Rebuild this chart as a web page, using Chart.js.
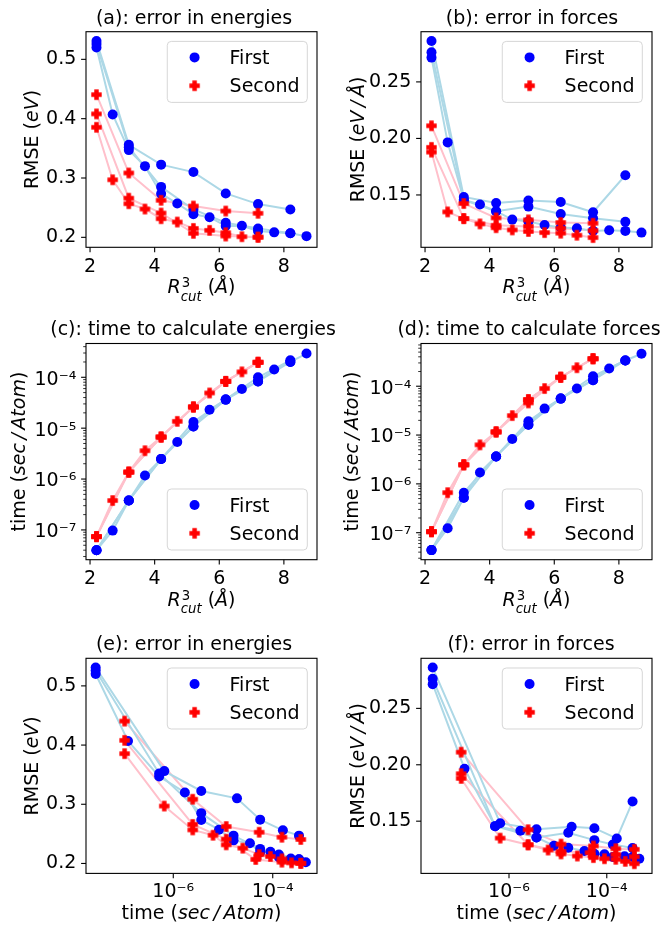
<!DOCTYPE html>
<html><head><meta charset="utf-8">
<script src="https://cdn.jsdelivr.net/npm/chart.js@4.4.1/dist/chart.umd.min.js"></script>
<style>
html,body{margin:0;padding:0;background:#fff;}
#wrap{position:relative;width:661px;height:927px;overflow:hidden;background:#fff;}
#wrap canvas{position:absolute;left:0;top:0;}
</style></head><body><div id="wrap">
<canvas id="pa" width="661" height="927"></canvas>
<canvas id="pb" width="661" height="927"></canvas>
<canvas id="pc" width="661" height="927"></canvas>
<canvas id="pd" width="661" height="927"></canvas>
<canvas id="pe" width="661" height="927"></canvas>
<canvas id="pf" width="661" height="927"></canvas>
</div>
<script>
// ---------------- data ----------------
const seriesNames = ['First', 'Second'];

const rcutStepFirst  = [2.2, 3.2, 4.2, 5.2, 6.2, 7.2, 8.2];
const rcutHalfFirst  = [2.2, 2.7, 3.2, 3.7, 4.2, 4.7, 5.2, 5.7, 6.2, 6.7, 7.2, 7.7, 8.2, 8.7];
const rcutStepSecond = [2.2, 3.2, 4.2, 5.2, 6.2, 7.2];
const rcutHalfSecond = [2.2, 2.7, 3.2, 3.7, 4.2, 4.7, 5.2, 5.7, 6.2, 6.7, 7.2];

// First, curve 1 (step 1)
const errE_F1  = [0.531, 0.356, 0.3225, 0.310, 0.274, 0.256, 0.247];
const errF_F1  = [0.2862, 0.1482, 0.1429, 0.1450, 0.1438, 0.1347, 0.1674];
const timeE_F1 = [4.0e-8, 3.8e-7, 2.47e-6, 1.32e-5, 3.64e-5, 1.0e-4, 2.16e-4];
const timeF_F1 = [4.4e-8, 6.6e-7, 3.65e-6, 1.91e-5, 5.58e-5, 1.60e-4, 3.37e-4];
const timeB_F1 = [2.75e-8, 6.6e-7, 3.65e-6, 1.91e-5, 5.58e-5, 1.60e-4, 3.37e-4];
// First, curve 2 (step 0.5)
const errE_F2  = [0.520, 0.407, 0.347, 0.320, 0.2735, 0.257, 0.239, 0.234, 0.219, 0.2196, 0.2106, 0.2084, 0.207, 0.202];
const errF_F2  = [0.2715, 0.1965, 0.1456, 0.1415, 0.1356, 0.1282, 0.1265, 0.1235, 0.1212, 0.1206, 0.1182, 0.1188, 0.1182, 0.1167];
const timeE_F2 = [4.0e-8, 9.7e-8, 3.8e-7, 1.17e-6, 2.47e-6, 5.33e-6, 1.08e-5, 2.31e-5, 3.64e-5, 5.9e-5, 8.3e-5, 1.42e-4, 2.0e-4, 2.93e-4];
const timeF_F2 = [4.4e-8, 1.23e-7, 5.2e-7, 1.71e-6, 3.65e-6, 8.3e-6, 1.63e-5, 3.48e-5, 5.58e-5, 8.97e-5, 1.33e-4, 2.31e-4, 3.37e-4, 4.63e-4];
const timeB_F2 = [2.75e-8, 1.23e-7, 5.2e-7, 1.71e-6, 3.65e-6, 8.3e-6, 1.63e-5, 3.48e-5, 5.58e-5, 8.97e-5, 1.33e-4, 2.31e-4, 3.37e-4, 4.63e-4];
// First, curve 3 (step 1)
const errE_F3  = [0.526, 0.352, 0.285, 0.247, 0.2246, 0.215, 0.207];
const errF_F3  = [0.2762, 0.1456, 0.1356, 0.1397, 0.1332, 0.1294, 0.1262];
const timeE_F3 = [4.0e-8, 3.8e-7, 2.47e-6, 1.08e-5, 3.64e-5, 8.3e-5, 2.0e-4];
const timeF_F3 = [4.4e-8, 5.2e-7, 3.65e-6, 1.63e-5, 5.58e-5, 1.33e-4, 3.37e-4];
const timeB_F3 = [2.75e-8, 5.2e-7, 3.65e-6, 1.63e-5, 5.58e-5, 1.33e-4, 3.37e-4];

// Second, curve 1 (step 1)
const errE_S1  = [0.4405, 0.3085, 0.2624, 0.2528, 0.2443, 0.2405];
const errF_S1  = [0.2112, 0.1424, 0.1297, 0.1280, 0.1256, 0.1250];
const timeE_S1 = [7.4e-8, 1.37e-6, 6.7e-6, 2.61e-5, 8.3e-5, 1.97e-4];
const timeF_S1 = [1.05e-7, 2.46e-6, 1.16e-5, 5.33e-5, 1.53e-4, 3.66e-4];
// Second, curve 2 (step 1)
const errE_S2  = [0.408, 0.266, 0.241, 0.2067, 0.2022, 0.2005];
const errF_S2  = [0.1921, 0.1291, 0.1232, 0.1221, 0.1205, 0.1185];
const timeE_S2 = [7.4e-8, 1.37e-6, 6.7e-6, 2.61e-5, 8.3e-5, 1.97e-4];
const timeF_S2 = [1.05e-7, 2.46e-6, 1.16e-5, 4.55e-5, 1.53e-4, 3.66e-4];
// Second, curve 3 (step 0.5)
const errE_S3  = [0.3855, 0.297, 0.2567, 0.2477, 0.2314, 0.2258, 0.215, 0.2118, 0.2078, 0.201, 0.200];
const errF_S3  = [0.1879, 0.1350, 0.1291, 0.1244, 0.1210, 0.1191, 0.1177, 0.1167, 0.1162, 0.1144, 0.1123];
const timeE_S3 = [7.4e-8, 3.78e-7, 1.37e-6, 3.6e-6, 6.7e-6, 1.36e-5, 2.61e-5, 4.92e-5, 8.3e-5, 1.28e-4, 1.97e-4];
const timeF_S3 = [1.05e-7, 6.6e-7, 2.46e-6, 6.3e-6, 1.16e-5, 2.5e-5, 5.33e-5, 8.97e-5, 1.53e-4, 2.39e-4, 3.66e-4];

// tick values
const rcutTicks   = [2, 4, 6, 8];
const energyTicks = [0.2, 0.3, 0.4, 0.5];
const forceTicks  = [0.15, 0.20, 0.25];
const timeTicksY  = [1e-7, 1e-6, 1e-5, 1e-4];
const timeTicksX  = [1e-6, 1e-4];

// ---------------- build ----------------
const curves = [
  {s:0, r:rcutStepFirst,  eE:errE_F1, eF:errF_F1, tE:timeE_F1, tF:timeF_F1, tB:timeB_F1},
  {s:0, r:rcutHalfFirst,  eE:errE_F2, eF:errF_F2, tE:timeE_F2, tF:timeF_F2, tB:timeB_F2},
  {s:0, r:rcutStepFirst,  eE:errE_F3, eF:errF_F3, tE:timeE_F3, tF:timeF_F3, tB:timeB_F3},
  {s:1, r:rcutStepSecond, eE:errE_S1, eF:errF_S1, tE:timeE_S1, tF:timeF_S1, tB:timeF_S1},
  {s:1, r:rcutStepSecond, eE:errE_S2, eF:errF_S2, tE:timeE_S2, tF:timeF_S2, tB:timeF_S2},
  {s:1, r:rcutHalfSecond, eE:errE_S3, eF:errF_S3, tE:timeE_S3, tF:timeF_S3, tB:timeF_S3},
];

const FONT = '"DejaVu Sans"';
const FS = 19;
const LINE_COL = ['#add8e6', '#ffc0cb'];
const MARK_COL = ['#0000ff', '#ff0000'];
const CIRCLE_R = 5;
const PLUS_SIZE = 10.4;

function plusImg(size, color) {
  const n = Math.ceil(size) + 2;
  const c = document.createElement('canvas'); c.width = n; c.height = n;
  const g = c.getContext('2d'); g.fillStyle = color;
  const h = size / 2, a = size / 6 + 0.5, cx = n / 2, cy = n / 2;
  g.beginPath();
  g.moveTo(cx - a, cy - h); g.lineTo(cx + a, cy - h); g.lineTo(cx + a, cy - a); g.lineTo(cx + h, cy - a);
  g.lineTo(cx + h, cy + a); g.lineTo(cx + a, cy + a); g.lineTo(cx + a, cy + h); g.lineTo(cx - a, cy + h);
  g.lineTo(cx - a, cy + a); g.lineTo(cx - h, cy + a); g.lineTo(cx - h, cy - a); g.lineTo(cx - a, cy - a);
  g.closePath(); g.fill();
  return c;
}
const PLUS = plusImg(PLUS_SIZE, MARK_COL[1]);

function sup(n) {
  const m = {'-':'\u207B','0':'\u2070','1':'\u00B9','2':'\u00B2','3':'\u00B3','4':'\u2074','5':'\u2075','6':'\u2076','7':'\u2077','8':'\u2078','9':'\u2079'};
  return String(n).split('').map(c => m[c]).join('');
}
const fmtLog = v => '10' + sup(Math.round(Math.log10(v)));

function font(sz, it) { return (it ? 'italic ' : '') + sz + 'px ' + FONT; }
function layoutRich(ctx, parts, sz) {
  let w = 0; const items = [];
  for (const p of parts) {
    if (p.gap) { w += p.gap; continue; }
    if (p.t !== undefined) {
      ctx.font = font(sz, p.it);
      items.push({t: p.t, f: ctx.font, x: w, dy: 0});
      w += ctx.measureText(p.t).width;
    } else {
      const s2 = sz * 0.7;
      ctx.font = font(s2, false);
      const w1 = ctx.measureText(p.sup).width;
      items.push({t: p.sup, f: ctx.font, x: w + 1, dy: -sz * 0.32});
      ctx.font = font(s2, true);
      const w2 = ctx.measureText(p.sub).width;
      items.push({t: p.sub, f: ctx.font, x: w, dy: sz * 0.4});
      w += Math.max(w1 + 1, w2);
    }
  }
  return {w, items};
}
function drawRich(ctx, parts, cx, cy, rot, baseDy) {
  const L = layoutRich(ctx, parts, FS);
  ctx.save(); ctx.translate(cx, cy); if (rot) ctx.rotate(rot);
  ctx.textAlign = 'left'; ctx.textBaseline = 'alphabetic'; ctx.fillStyle = '#000';
  for (const it of L.items) { ctx.font = it.f; ctx.fillText(it.t, it.x - L.w / 2, it.dy + baseDy); }
  ctx.restore();
}

const X_RCUT = [{t:'R', it:true}, {sup:'3', sub:'cut'}, {t:' ('}, {t:'\u00C5', it:true}, {t:')'}];
const X_TIME = [{t:'time ('}, {t:'sec', it:true}, {gap:3.5}, {t:'/', it:true}, {gap:3.5}, {t:'Atom', it:true}, {t:')'}];
const Y_EERR = [{t:'RMSE ('}, {t:'eV', it:true}, {t:')'}];
const Y_FERR = [{t:'RMSE ('}, {t:'eV', it:true}, {gap:3.5}, {t:'/', it:true}, {gap:3.5}, {t:'\u00C5', it:true}, {t:')'}];
const Y_TIME = X_TIME;

function minorLog(lo, hi) {
  const out = [];
  for (let e = Math.floor(Math.log10(lo)); e <= Math.ceil(Math.log10(hi)); e++)
    for (let k = 2; k <= 9; k++) { const v = k * Math.pow(10, e); if (v >= lo && v <= hi) out.push(v); }
  return out;
}

const decor = {
  id: 'decor',
  afterDraw(chart, args, o) {
    const ctx = chart.ctx, a = chart.chartArea;
    const xs = chart.scales.x, ys = chart.scales.y;
    ctx.save();
    ctx.strokeStyle = '#000';
    const seg = (x1, y1, x2, y2) => { ctx.beginPath(); ctx.moveTo(x1, y1); ctx.lineTo(x2, y2); ctx.stroke(); };
    // minor ticks
    ctx.lineWidth = 0.8;
    for (const v of (o.xMinor || [])) { const p = xs.getPixelForValue(v); seg(p, a.bottom, p, a.bottom + 2.8); }
    for (const v of (o.yMinor || [])) { const p = ys.getPixelForValue(v); seg(a.left, p, a.left - 2.8, p); }
    // major ticks
    ctx.lineWidth = 1.1;
    for (const t of xs.ticks) { const p = xs.getPixelForValue(t.value); seg(p, a.bottom, p, a.bottom + 4.9); }
    for (const t of ys.ticks) { const p = ys.getPixelForValue(t.value); seg(a.left, p, a.left - 4.9, p); }
    // frame
    ctx.lineWidth = 1.1;
    ctx.strokeRect(a.left, a.top, a.right - a.left, a.bottom - a.top);
    // title
    ctx.fillStyle = '#000'; ctx.font = font(FS, false);
    ctx.textAlign = 'center'; ctx.textBaseline = 'alphabetic';
    ctx.fillText(o.title, o.titleX, a.top - 8.1);
    // axis titles
    drawRich(ctx, o.xTitle, (a.left + a.right) / 2, a.bottom + 46, 0, 0);
    drawRich(ctx, o.yTitle, o.yTitleX, (a.top + a.bottom) / 2, -Math.PI / 2, 6);
    // legend
    ctx.font = font(FS, false);
    const tw = Math.max(...seriesNames.map(s => ctx.measureText(s).width));
    const w = 7.8 + 38.9 + 15.6 + tw + 7.8, h = 61;
    const x0 = a.right - 9.7 - w;
    const y0 = o.legendLow ? a.bottom - 9.7 - h : a.top + 9.7;
    ctx.beginPath();
    ctx.roundRect(x0, y0, w, h, 4);
    ctx.fillStyle = 'rgba(255,255,255,0.8)'; ctx.fill();
    ctx.strokeStyle = 'rgba(204,204,204,0.8)'; ctx.lineWidth = 1; ctx.stroke();
    seriesNames.forEach((name, i) => {
      const cy = y0 + 16 + i * 28.3, mx = x0 + 27.3;
      if (i === 0) { ctx.fillStyle = MARK_COL[0]; ctx.beginPath(); ctx.arc(mx, cy, CIRCLE_R, 0, Math.PI * 2); ctx.fill(); }
      else ctx.drawImage(PLUS, mx - PLUS.width / 2, cy - PLUS.height / 2);
      ctx.fillStyle = '#000'; ctx.textAlign = 'left'; ctx.textBaseline = 'alphabetic';
      ctx.font = font(FS, false);
      ctx.fillText(name, x0 + 7.8 + 38.9 + 15.6, cy + 6.6);
    });
    ctx.restore();
  }
};

function scaleCfg(kind, min, max, ticks, fmt, horiz, opts) {
  return Object.assign({
    type: kind, min, max, position: horiz ? 'bottom' : 'left',
    afterBuildTicks: s => { s.ticks = ticks.map(v => ({value: v})); },
    afterFit: s => { if (horiz) s.height = 40; else s.width = 80; },
    grid: {display: false, drawTicks: false},
    border: {display: false},
    ticks: {autoSkip: false, maxRotation: 0, minRotation: 0, padding: horiz ? 8 : 9.7, color: '#000',
            font: {family: 'DejaVu Sans', size: FS}, callback: v => fmt(v)}
  }, opts || {});
}

const fmtR = v => String(v);
const fmt1 = v => v.toFixed(1);
const fmt2 = v => v.toFixed(2);

const panels = [
  {id:'pa', L:86,  R:317, T:31.7,  B:247.3, xk:'r',  yk:'eE', title:'(a): error in energies', titleX:194,
   x:['linear', 1.875, 9.025, rcutTicks, fmtR], y:['linear', 0.1832, 0.5466, energyTicks, fmt1],
   xTitle:X_RCUT, yTitle:Y_EERR, yTitleX:32, legendLow:false},
  {id:'pb', L:421, R:652, T:31.7,  B:247.3, xk:'r',  yk:'eF', title:'(b): error in forces', titleX:532,
   x:['linear', 1.875, 9.025, rcutTicks, fmtR], y:['linear', 0.1037, 0.2944, forceTicks, fmt2],
   xTitle:X_RCUT, yTitle:Y_FERR, yTitleX:357.5, legendLow:false},
  {id:'pc', L:86,  R:317, T:343.5, B:559.7, xk:'r',  yk:'tE', title:'(c): time to calculate energies', titleX:193,
   x:['linear', 1.875, 9.025, rcutTicks, fmtR], y:['logarithmic', Math.pow(10,-7.585), Math.pow(10,-3.336), timeTicksY, fmtLog],
   xTitle:X_RCUT, yTitle:Y_TIME, yTitleX:18.5, legendLow:true, yLog:true},
  {id:'pd', L:421, R:652, T:343.5, B:559.7, xk:'r',  yk:'tF', title:'(d): time to calculate forces', titleX:529,
   x:['linear', 1.875, 9.025, rcutTicks, fmtR], y:['logarithmic', Math.pow(10,-7.553), Math.pow(10,-3.125), timeTicksY, fmtLog],
   xTitle:X_RCUT, yTitle:Y_TIME, yTitleX:352, legendLow:true, yLog:true},
  {id:'pe', L:86,  R:317, T:658.3, B:873.4, xk:'tB', yk:'eE', title:'(e): error in energies', titleX:194,
   x:['logarithmic', Math.pow(10,-7.755), Math.pow(10,-3.11), timeTicksX, fmtLog], y:['linear', 0.1832, 0.5466, energyTicks, fmt1],
   xTitle:X_TIME, yTitle:Y_EERR, yTitleX:32, legendLow:false, xLog:true},
  {id:'pf', L:421, R:652, T:658.3, B:873.4, xk:'tB', yk:'eF', title:'(f): error in forces', titleX:531,
   x:['logarithmic', Math.pow(10,-7.80), Math.pow(10,-3.075), timeTicksX, fmtLog], y:['linear', 0.1037, 0.2944, forceTicks, fmt2],
   xTitle:X_TIME, yTitle:Y_FERR, yTitleX:357.5, legendLow:false, xLog:true},
];

for (const P of panels) {
  const datasets = [];
  curves.forEach(c => {
    const pts = c[P.xk].map((xv, i) => ({x: xv, y: c[P.yk][i]}));
    datasets.push({data: pts, showLine: true, borderColor: LINE_COL[c.s], borderWidth: 2, pointRadius: 0,
                   fill: false, order: 10, tension: 0});
    datasets.push({data: pts, showLine: false, pointRadius: c.s === 0 ? CIRCLE_R : 5.5,
                   pointStyle: c.s === 0 ? 'circle' : PLUS, pointBackgroundColor: MARK_COL[c.s],
                   pointBorderWidth: 0, borderWidth: 0, order: c.s === 0 ? 5 : 1});
  });
  const xc = scaleCfg(P.x[0], P.x[1], P.x[2], P.x[3], P.x[4], true, P.xLog ? {ticks: {autoSkip:false, maxRotation:0, minRotation:0, padding: 7, color:'#000', font:{family:'DejaVu Sans', size:FS}, callback: v => fmtLog(v)}} : null);
  const yc = scaleCfg(P.y[0], P.y[1], P.y[2], P.y[3], P.y[4], false, P.yLog ? {ticks: {autoSkip:false, maxRotation:0, minRotation:0, padding: 9.7, labelOffset: 2.5, color:'#000', font:{family:'DejaVu Sans', size:FS}, callback: v => fmtLog(v)}} : null);
  new Chart(document.getElementById(P.id), {
    type: 'scatter',
    data: {datasets},
    plugins: [decor],
    options: {
      responsive: false, animation: false, devicePixelRatio: 1, events: [],
      layout: {padding: {left: P.L - 80, right: 661 - P.R, top: P.T, bottom: 927 - P.B - 40}},
      scales: {x: xc, y: yc},
      plugins: {
        legend: {display: false}, title: {display: false}, tooltip: {enabled: false},
        decor: {title: P.title, titleX: P.titleX, xTitle: P.xTitle, yTitle: P.yTitle, yTitleX: P.yTitleX,
                legendLow: P.legendLow,
                xMinor: [],
                yMinor: P.yLog ? minorLog(P.y[1], P.y[2]) : []}
      }
    }
  });
}
</script></body></html>
